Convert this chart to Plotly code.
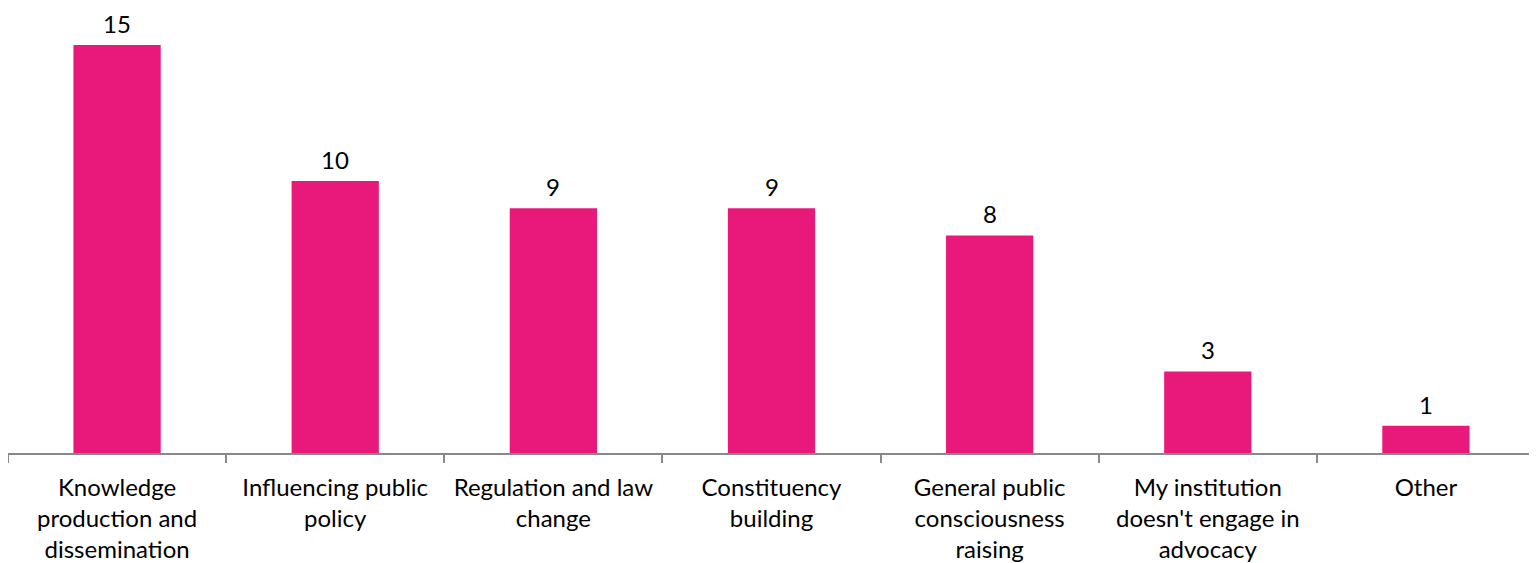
import plotly.graph_objects as go

categories = [
    "Knowledge<br>production and<br>dissemination",
    "Influencing public<br>policy",
    "Regulation and law<br>change",
    "Constituency<br>building",
    "General public<br>consciousness<br>raising",
    "My institution<br>doesn't engage in<br>advocacy",
    "Other",
]
values = [15, 10, 9, 9, 8, 3, 1]

BAR_COLOR = "#E8197A"
FONT = "Lato, 'Open Sans', sans-serif"

fig = go.Figure()
fig.add_trace(go.Bar(
    x=categories,
    y=values,
    marker=dict(color=BAR_COLOR, line=dict(width=0)),
    width=0.4,
    hoverinfo="skip",
))

for cat, v in zip(categories, values):
    fig.add_annotation(
        x=cat, y=v, text=str(v), showarrow=False,
        yanchor="bottom", yshift=6, borderpad=0,
        font=dict(family=FONT, size=24, color="#000000"),
    )

PLOT_H = 445
fig.update_layout(
    width=1529, height=555,
    margin=dict(l=0, r=2, t=0, b=110),
    paper_bgcolor="white", plot_bgcolor="white",
    showlegend=False,
)
fig.update_xaxes(
    type="category",
    range=[-0.5, len(categories) - 0.5],
    tickson="boundaries",
    ticks="outside", ticklen=8, tickwidth=1.5, tickcolor="#898989",
    showline=True, linecolor="#898989", linewidth=1.5,
    showgrid=False, zeroline=False,
    tickfont=dict(family=FONT, size=24, color="#000000"),
    tickangle=0,
    ticklabelstandoff=12,
    automargin=False,
)
fig.update_yaxes(
    range=[0, PLOT_H / 27.2],
    visible=False, showgrid=False, zeroline=False,
)

fig.write_html("out.html")
